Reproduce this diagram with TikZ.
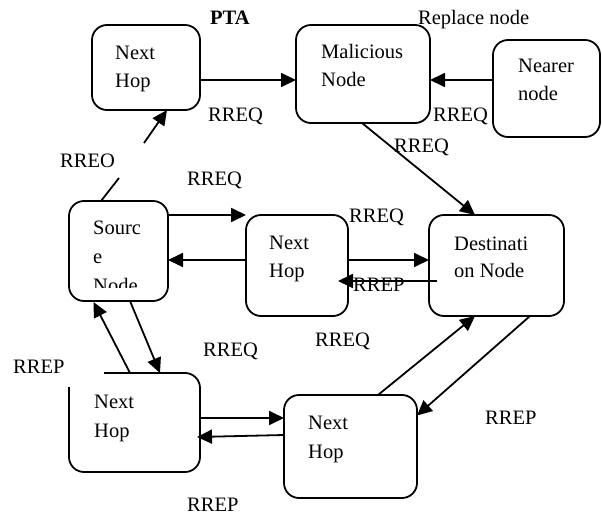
\documentclass[tikz,border=0pt]{standalone}
\usepackage{fontspec}
\setmainfont{Liberation Serif}
\usetikzlibrary{arrows.meta,calc}
\begin{document}
\begin{tikzpicture}[x=1pt,y=-1pt]
\tikzset{
 box/.style={draw,line width=1.8pt,rounded corners=15pt,inner sep=0pt,outer sep=0pt},
 txt/.style={inner sep=0pt,anchor=base west,font=\fontsize{20.5}{24}\selectfont},
 arr/.style={line width=1.8pt,-{Triangle[length=15pt,width=14pt]}},
 ln/.style={line width=1.8pt},
}
\useasboundingbox[fill=white] (0,0) rectangle (602,516);
% boxes
\node[box,minimum width=108pt,minimum height=85pt] (nh1) at (146,67.5) {};
\node[box,minimum width=134pt,minimum height=98pt] (mal) at (363,74) {};
\node[box,minimum width=107pt,minimum height=97pt] (near) at (546.5,88.5) {};
\node[box,minimum width=99pt,minimum height=100pt] (src) at (118.5,251) {};
\node[box,minimum width=102pt,minimum height=101pt] (nh2) at (297,265.5) {};
\node[box,minimum width=135pt,minimum height=101pt] (dst) at (496.5,265.5) {};
\node[box,minimum width=131pt,minimum height=99pt] (nh3) at (134.5,422.5) {};
\node[box,minimum width=133pt,minimum height=103pt] (nh4) at (350.5,446.5) {};
\fill[white] (66,370) rectangle (104,387);
% box texts
\node[txt] (t1a) at (115,60) {Next};
\node[txt] (t1b) at (115,88) {Hop};
\node[txt] (t2a) at (321,59) {Malicious};
\node[txt] (t2b) at (321,87) {Node};
\node[txt] (t3a) at (518,73) {Nearer};
\node[txt] (t3b) at (518,101) {node};
\node[txt] (t4a) at (93,234) {Sourc};
\node[txt] (t4b) at (93,263) {e};
\begin{scope}
\clip (80,270) rectangle (160,287.5);
\node[txt] (t4c) at (93,292) {Node};
\end{scope}
\node[txt] (t5a) at (269,249) {Next};
\node[txt] (t5b) at (269,277) {Hop};
\node[txt] (t6a) at (454,250) {Destinati};
\node[txt] (t6b) at (454,277) {on Node};
\node[txt] (t7a) at (94,408) {Next};
\node[txt] (t7b) at (94,437) {Hop};
\node[txt] (t8a) at (308,429) {Next};
\node[txt] (t8b) at (308,458) {Hop};
% connectors
\draw[arr] (nh1.east |- 0,80) -- (mal.west |- 0,80);
\draw[arr] (near.west |- 0,80) -- (mal.east |- 0,80);
\draw[arr] (mal.south -| 362,0) -- (dst.north -| 475,0);
\coordinate (g1) at (119,178);
\coordinate (g2) at (144,143);
\draw[ln] (src.north -| 101,0) -- (g1);
\draw[arr] (g2) -- (nh1.south -| 167,0);
\draw[arr] (src.east |- 0,215) -- (nh2.west |- 0,215);
\draw[arr] (nh2.west |- 0,260) -- (src.east |- 0,260);
\draw[arr] (nh2.east |- 0,260) -- (dst.west |- 0,260);
\draw[arr] ($(dst.west)+(8,15.5)$) -- ($(nh2.east)+(-10,15.5)$);
\draw[arr] (src.south -| 130,0) -- (nh3.north -| 160,0);
\draw[arr] (nh3.north -| 130,0) -- ($(src.south)+(-25,1)$);
\draw[arr] (nh3.east |- 0,418) -- (nh4.west |- 0,418);
\draw[arr] (nh4.west |- 0,435) -- ($(nh3.east)+(-3,14.5)$);
\draw[arr] (nh4.north -| 378,0) -- (dst.south -| 475,0);
\draw[arr] (dst.south -| 530,0) -- ($(nh4.east)+(0,-31)$);
% labels
\node[txt,font=\fontsize{20.5}{24}\selectfont\bfseries] (pta) at (210,25) {PTA};
\node[txt] (rep) at (418,25) {Replace node};
\node[txt] (l1) at (208,122) {RREQ};
\node[txt] (l2) at (433,122) {RREQ};
\node[txt] (l3) at (394,152) {RREQ};
\node[txt] (l4) at (60,167) {RREO};
\node[txt] (l5) at (187,185) {RREQ};
\node[txt] (l6) at (349,222) {RREQ};
\node[txt] (l12) at (353,291) {RREP};
\node[txt] (l7) at (315,346) {RREQ};
\node[txt] (l8) at (203,356) {RREQ};
\node[txt] (l9) at (13,373) {RREP};
\node[txt] (l10) at (485,424) {RREP};
\node[txt] (l11) at (187,511) {RREP};
\end{tikzpicture}
\end{document}
